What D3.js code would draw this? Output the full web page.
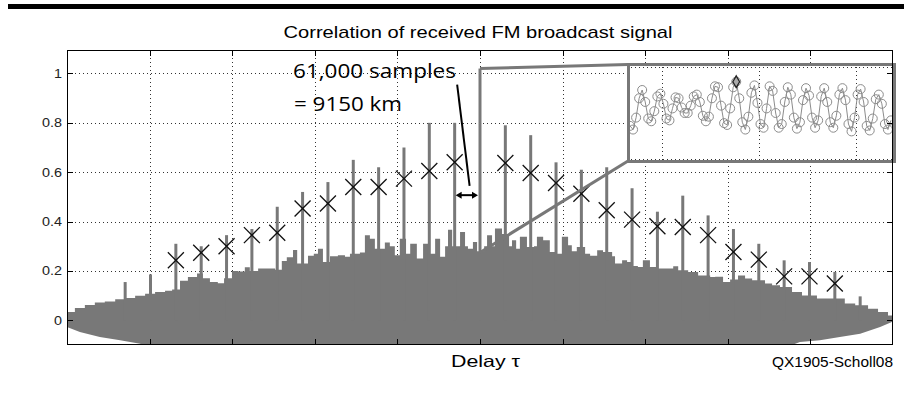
<!DOCTYPE html>
<html>
<head>
<meta charset="utf-8">
<script src="https://cdn.jsdelivr.net/npm/d3@7"></script>
<style>
  html, body { margin: 0; padding: 0; background: #fff; }
  svg { display: block; }
</style>
</head>
<body>
<svg id="chart" width="904" height="393"></svg>
<script>
// ---- data (delay in thousands of samples, correlation amplitude) ----

// upper edge of the correlation noise floor
const noiseTopDelay = [-994,-975,-951,-927,-903,-878,-854,-830,-806,-782,-758,-741,-722,-703,-681,-667,-650,-631,-616,-597,-582,-566,-554,-534,-510,-493,-477,-465,-450,-440,-414,-400,-390,-378,-361,-342,-325,-313,-289,-277,-265,-253,-229,-217,-205,-193,-178,-168,-152,-137,-125,-108,-96,-84,-77,-67,-48,-36,-29,-17,-7,10,17,29,36,53,70,77,87,96,113,130,137,152,168,181,197,212,221,233,253,265,282,296,318,325,342,354,366,380,392,409,428,445,465,477,501,525,537,554,566,585,602,621,638,655,686,703,722,751,775,811,830,878,903,934,958,982,994];
const noiseTopValue = [0.034,0.05,0.062,0.072,0.076,0.085,0.09,0.1,0.108,0.115,0.12,0.125,0.16,0.175,0.19,0.17,0.155,0.15,0.17,0.2,0.198,0.215,0.2,0.21,0.21,0.205,0.24,0.255,0.285,0.23,0.262,0.27,0.29,0.236,0.26,0.264,0.257,0.27,0.275,0.345,0.33,0.29,0.315,0.3,0.264,0.33,0.27,0.31,0.25,0.31,0.27,0.33,0.257,0.3,0.367,0.3,0.358,0.3,0.29,0.317,0.28,0.3,0.345,0.3,0.372,0.35,0.3,0.324,0.29,0.338,0.297,0.3,0.338,0.324,0.277,0.27,0.338,0.304,0.28,0.297,0.27,0.262,0.284,0.277,0.26,0.23,0.243,0.236,0.22,0.216,0.243,0.216,0.21,0.21,0.219,0.203,0.196,0.182,0.182,0.175,0.176,0.155,0.165,0.182,0.169,0.162,0.149,0.142,0.135,0.115,0.101,0.088,0.088,0.068,0.061,0.047,0.034,0.02,0.012];

// lower edge of the correlation noise floor
const noiseLowDelay = [-994,-963,-915,-866,-818,-789,722,751,770,818,866,915,963,994];
const noiseLowValue = [-0.027,-0.047,-0.068,-0.081,-0.095,-0.12,-0.12,-0.1,-0.088,-0.081,-0.068,-0.054,-0.027,-0.005];

// correlation peaks, one every 61,000 samples
const peakDelay = [-854,-793,-732,-671,-610,-549,-488,-427,-366,-305,-244,-183,-122,-61,0,61,122,183,244,305,366,427,488,549,610,671,732,793,854,915];
const peakValue = [0.155,0.186,0.31,0.30,0.345,0.37,0.46,0.52,0.56,0.65,0.62,0.70,0.80,0.80,1.02,0.79,0.75,0.64,0.61,0.62,0.535,0.44,0.505,0.425,0.37,0.31,0.243,0.236,0.196,0.097];

// detected peak estimates (x markers)
const markDelay = [-732,-671,-610,-549,-488,-427,-366,-305,-244,-183,-122,-61,61,122,183,244,305,366,427,488,549,610,671,732,793,854];
const markValue = [0.243,0.274,0.30,0.345,0.355,0.453,0.473,0.54,0.54,0.574,0.605,0.64,0.637,0.597,0.556,0.513,0.446,0.408,0.381,0.378,0.345,0.277,0.246,0.178,0.178,0.149];

// zoomed view of the main peak, sample by sample
const insetValue = [0.36,0.32,0.45,0.66,0.75,0.62,0.44,0.41,0.52,0.68,0.71,0.60,0.44,0.42,0.55,0.67,0.66,0.56,0.50,0.50,0.58,0.68,0.70,0.62,0.47,0.41,0.46,0.66,0.79,0.78,0.58,0.39,0.37,0.55,0.78,0.84,0.66,0.40,0.32,0.46,0.72,0.80,0.61,0.38,0.34,0.55,0.79,0.74,0.50,0.34,0.38,0.62,0.78,0.70,0.45,0.33,0.40,0.64,0.77,0.69,0.45,0.34,0.42,0.68,0.77,0.62,0.40,0.34,0.47,0.70,0.77,0.64,0.38,0.30,0.45,0.70,0.76,0.62,0.36,0.31,0.44,0.65,0.70,0.60,0.38,0.32,0.42];
const insetPeakIndex = 35;

const yTickValues = [0, 0.2, 0.4, 0.6, 0.8, 1];
const yTickLabels = ["0", "0.2", "0.4", "0.6", "0.8", "1"];

const titleText = "Correlation of received FM broadcast signal";
const xLabelText = "Delay \u03c4";
const creditText = "QX1905-Scholl08";
const noteLines = ["61,000 samples", "= 9150 km"];

// ---- layout ----
const W = 904, H = 393;
const plot = { left: 67, right: 893, top: 50, bottom: 345 };
const inset = { left: 627, right: 896, top: 63, bottom: 163 };
const gray = "#787878";

const svg = d3.select("#chart");

const x = d3.scaleLinear().domain([-994, 994]).range([plot.left, plot.right]);
const y = d3.scaleLinear().domain([-0.1, 1.095]).range([plot.bottom, plot.top]);

// banner rule across the top
svg.append("rect").attr("x", 8).attr("y", 4).attr("width", W - 8).attr("height", 5).attr("fill", "#000");

// title
svg.append("text")
  .attr("x", 478).attr("y", 37.5)
  .attr("text-anchor", "middle")
  .attr("font-family", "Liberation Sans, Arial, sans-serif")
  .attr("font-size", 17)
  .attr("textLength", 389).attr("lengthAdjust", "spacingAndGlyphs")
  .text(titleText);

const defs = svg.append("defs");
defs.append("clipPath").attr("id", "plotClip")
  .append("rect").attr("x", plot.left).attr("y", plot.top)
  .attr("width", plot.right - plot.left).attr("height", plot.bottom - plot.top);

// grid
const xGrid = d3.range(1, 10).map(i => x.domain()[0] + i * (x.domain()[1] - x.domain()[0]) / 10);
const grid = svg.append("g").attr("stroke", "#333").attr("stroke-width", 1).attr("stroke-dasharray", "1,3");
grid.selectAll("line.v").data(xGrid).join("line")
  .attr("x1", d => Math.round(x(d)) + 0.5).attr("x2", d => Math.round(x(d)) + 0.5)
  .attr("y1", plot.top).attr("y2", plot.bottom);
grid.selectAll("line.h").data(yTickValues).join("line")
  .attr("x1", plot.left).attr("x2", plot.right)
  .attr("y1", d => Math.round(y(d)) + 0.5).attr("y2", d => Math.round(y(d)) + 0.5);

const plotG = svg.append("g").attr("clip-path", "url(#plotClip)");

// noise floor
const topPts = d3.zip(noiseTopDelay, noiseTopValue);
const lowPts = d3.zip(noiseLowDelay, noiseLowValue);
const topLine = d3.line().x(d => x(d[0])).y(d => y(d[1])).curve(d3.curveStepAfter);
const lowLine = d3.line().x(d => x(d[0])).y(d => y(d[1]));
const noisePath = topLine(topPts) + "L" + lowLine(lowPts.slice().reverse()).slice(1) + "Z";
plotG.append("path").attr("d", noisePath).attr("fill", gray).attr("stroke", "none");

// correlation peaks
plotG.selectAll("line.peak").data(d3.zip(peakDelay, peakValue)).join("line")
  .attr("class", "peak")
  .attr("x1", d => x(d[0])).attr("x2", d => x(d[0]))
  .attr("y1", y(0)).attr("y2", d => y(d[1]))
  .attr("stroke", gray).attr("stroke-width", 3);

// x markers
const ms = 8;
const marks = svg.append("g").attr("stroke", "#111").attr("stroke-width", 1.3).attr("fill", "none");
marks.selectAll("path").data(d3.zip(markDelay, markValue)).join("path")
  .attr("d", d => {
    const cx = x(d[0]), cy = y(d[1]);
    return `M${cx - ms},${cy - ms}L${cx + ms},${cy + ms}M${cx - ms},${cy + ms}L${cx + ms},${cy - ms}`;
  });

// connectors from the main peak to the zoomed view
svg.append("line")
  .attr("x1", x(0)).attr("y1", y(1.02)).attr("x2", inset.left + 1).attr("y2", inset.top + 1.5)
  .attr("stroke", gray).attr("stroke-width", 3);
svg.append("line")
  .attr("x1", x(0)).attr("y1", y(0.275)).attr("x2", inset.left + 1).attr("y2", inset.bottom - 2)
  .attr("stroke", gray).attr("stroke-width", 3);

// annotation: peak spacing
const note = svg.append("g")
  .attr("font-family", "Open Sans, Noto Sans, sans-serif")
  .attr("font-size", 20).attr("fill", "#000");
note.append("text").attr("x", 293).attr("y", 77.5)
  .attr("textLength", 163).attr("lengthAdjust", "spacingAndGlyphs").text(noteLines[0]);
note.append("text").attr("x", 294).attr("y", 110.5)
  .attr("textLength", 108).attr("lengthAdjust", "spacingAndGlyphs").text(noteLines[1]);

svg.append("line")
  .attr("x1", x(-55)).attr("y1", y(0.955)).attr("x2", x(-25)).attr("y2", y(0.545))
  .attr("stroke", "#000").attr("stroke-width", 2);

const arrowY = y(0.507);
const ax0 = x(-61) + 1, ax1 = x(0) - 2;
svg.append("line").attr("x1", ax0 + 4).attr("x2", ax1 - 4).attr("y1", arrowY).attr("y2", arrowY)
  .attr("stroke", "#000").attr("stroke-width", 2);
svg.append("path")
  .attr("d", `M${ax0},${arrowY}L${ax0 + 6},${arrowY - 3.5}L${ax0 + 6},${arrowY + 3.5}Z M${ax1},${arrowY}L${ax1 - 6},${arrowY - 3.5}L${ax1 - 6},${arrowY + 3.5}Z`)
  .attr("fill", "#000");

// zoomed view of the main peak
const ix = d3.scaleLinear().domain([-1, 87]).range([inset.left, inset.left + 88 * 3.034]);
const iy = d3.scaleLinear().domain([0, 1]).range([159, 67]);
defs.append("clipPath").attr("id", "insetClip")
  .append("rect").attr("x", inset.left + 3).attr("y", inset.top + 3)
  .attr("width", inset.right - inset.left - 6).attr("height", inset.bottom - inset.top - 6);

svg.append("rect")
  .attr("x", inset.left).attr("y", inset.top)
  .attr("width", inset.right - inset.left).attr("height", inset.bottom - inset.top)
  .attr("fill", "#fff");
const ig = svg.append("g").attr("clip-path", "url(#insetClip)");
const iGrid = ig.append("g").attr("stroke", "#333").attr("stroke-width", 1).attr("stroke-dasharray", "1,3");
iGrid.selectAll("line.v").data([10.5, 42.5, 74.5]).join("line")
  .attr("x1", d => Math.round(ix(d)) + 0.5).attr("x2", d => Math.round(ix(d)) + 0.5)
  .attr("y1", inset.top).attr("y2", inset.bottom);
iGrid.selectAll("line.h").data([0, 1]).join("line")
  .attr("x1", inset.left).attr("x2", inset.right)
  .attr("y1", d => Math.round(iy(d)) + 0.5).attr("y2", d => Math.round(iy(d)) + 0.5);

const iPts = insetValue.map((v, i) => [i, v]);
ig.append("path")
  .attr("d", d3.line().x(d => ix(d[0])).y(d => iy(d[1]))(iPts))
  .attr("fill", "none").attr("stroke", "#8c8c8c").attr("stroke-width", 1);
ig.selectAll("circle").data(iPts).join("circle")
  .attr("cx", d => ix(d[0])).attr("cy", d => iy(d[1])).attr("r", 4.5)
  .attr("fill", "none").attr("stroke", "#8c8c8c").attr("stroke-width", 1);
ig.append("path")
  .attr("d", d3.symbol(d3.symbolDiamond, 40)())
  .attr("transform", `translate(${ix(insetPeakIndex)},${iy(insetValue[insetPeakIndex])})`)
  .attr("fill", "#aaa").attr("stroke", "#222").attr("stroke-width", 1.3);

svg.append("rect")
  .attr("x", inset.left + 1.5).attr("y", inset.top + 1.5)
  .attr("width", inset.right - inset.left - 3).attr("height", inset.bottom - inset.top - 3)
  .attr("fill", "none").attr("stroke", gray).attr("stroke-width", 3);

// axes box and inward ticks
svg.append("rect")
  .attr("x", plot.left + 0.5).attr("y", plot.top + 0.5)
  .attr("width", plot.right - plot.left - 1).attr("height", plot.bottom - plot.top - 1)
  .attr("fill", "none").attr("stroke", "#000").attr("stroke-width", 1);
const ticks = svg.append("g").attr("stroke", "#000").attr("stroke-width", 1);
const tl = 6;
xGrid.forEach(d => {
  const px = Math.round(x(d)) + 0.5;
  ticks.append("line").attr("x1", px).attr("x2", px).attr("y1", plot.top).attr("y2", plot.top + tl);
  ticks.append("line").attr("x1", px).attr("x2", px).attr("y1", plot.bottom).attr("y2", plot.bottom - tl);
});
yTickValues.forEach(d => {
  const py = Math.round(y(d)) + 0.5;
  ticks.append("line").attr("x1", plot.left).attr("x2", plot.left + tl).attr("y1", py).attr("y2", py);
  ticks.append("line").attr("x1", plot.right).attr("x2", plot.right - tl).attr("y1", py).attr("y2", py);
});

// y tick labels
const yl = svg.append("g")
  .attr("font-family", "Liberation Sans, Arial, sans-serif")
  .attr("font-size", 12.5).attr("fill", "#222").attr("text-anchor", "end");
yTickValues.forEach((d, i) => {
  const t = yl.append("text").attr("x", 62).attr("y", y(d) + 4.5).text(yTickLabels[i]);
  const w = t.node().getComputedTextLength();
  t.attr("textLength", w * 1.15).attr("lengthAdjust", "spacingAndGlyphs");
});

// axis label and credit
svg.append("text")
  .attr("x", 451).attr("y", 367)
  .attr("font-family", "Liberation Sans, Arial, sans-serif").attr("font-size", 16.5)
  .attr("textLength", 69).attr("lengthAdjust", "spacingAndGlyphs")
  .text(xLabelText);
svg.append("text")
  .attr("x", 893).attr("y", 366.5).attr("text-anchor", "end")
  .attr("font-family", "Liberation Sans, Arial, sans-serif").attr("font-size", 15.5)
  .attr("textLength", 121).attr("lengthAdjust", "spacingAndGlyphs")
  .text(creditText);
</script>
</body>
</html>
